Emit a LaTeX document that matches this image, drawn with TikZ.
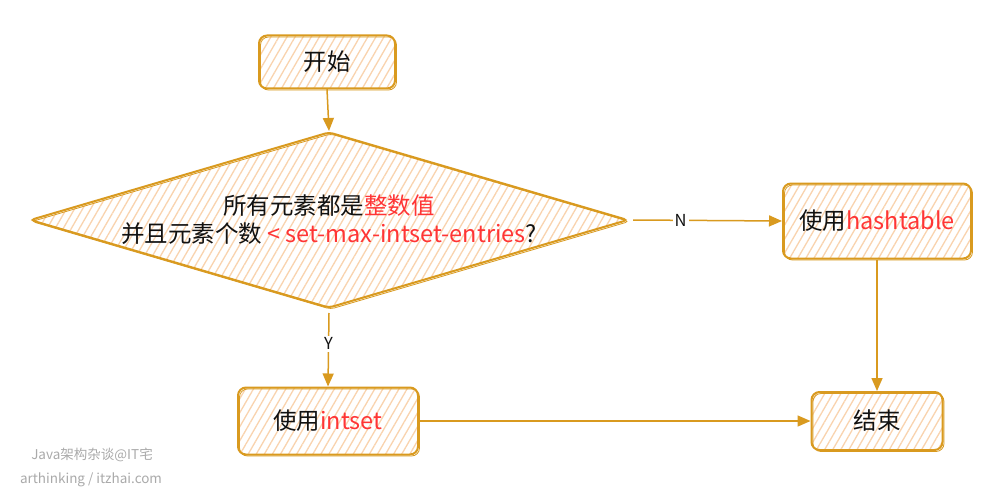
\documentclass[tikz,border=0pt]{standalone}
\usepackage{fontspec}
\setmainfont{Noto Sans CJK SC}
\usetikzlibrary{shapes.geometric,arrows.meta,patterns.meta}
\definecolor{stroke}{HTML}{D99A1F}
\definecolor{hatch}{HTML}{F9D3AE}
\definecolor{hl}{HTML}{FF3535}
\definecolor{ink}{HTML}{111111}
\definecolor{wm}{HTML}{AAAAAA}
\tikzset{
  sketch/.style={draw=stroke, line width=2pt, rounded corners=8pt,
    pattern={Lines[angle=60,distance=7pt,line width=1.3pt]}, pattern color=hatch,
    postaction={draw=stroke, line width=0.8pt, pattern=none, transform canvas={shift={(1.5pt,-1.5pt)}}},
    text=ink, font=\fontsize{23.5}{28}\selectfont, inner sep=0pt},
  stepbox/.style={sketch, rectangle},
  decbox/.style={sketch, diamond, rounded corners=4pt, shape aspect=3.4, align=center},
  conn/.style={draw=stroke, line width=1.5pt, -{Triangle[length=13pt,width=11pt]}},
  lbl/.style={fill=white, text=ink, font=\fontsize{16.5}{19}\selectfont, inner sep=2pt},
  water/.style={text=wm, font=\fontsize{13.5}{16}\selectfont, inner sep=0pt}
}
\begin{document}
\begin{tikzpicture}[x=1pt,y=-1pt]
\useasboundingbox (0,0) rectangle (1000,492);
\fill[white] (0,0) rectangle (1000,492);
\node[stepbox, minimum width=136pt, minimum height=53pt] (start) at (327,62) {开始};
\node[decbox, minimum width=598pt, minimum height=176pt] (dec) at (329,220)
  {所有元素都是\textcolor{hl}{整数值}\\并且元素个数 \textcolor{hl}{< set-max-intset-entries}?};
\node[stepbox, minimum width=188pt, minimum height=75pt] (hash) at (877,221) {使用\textcolor{hl}{hashtable}};
\node[stepbox, minimum width=180pt, minimum height=67pt] (intset) at (328,421) {使用\textcolor{hl}{intset}};
\node[stepbox, minimum width=131pt, minimum height=58pt] (end) at (877,421) {结束};
\draw[conn] (start.south) -- (dec.north);
\draw[conn] (dec.east) ++(4,0) coordinate (decE) -- (hash.west) node[lbl, pos=0.32] (nlab) {N};
\draw[conn] (dec.south) ++(0,4) coordinate (decS) -- (intset.north) node[lbl, pos=0.42] (ylab) {Y};
\draw[conn] (hash.south) -- (end.north);
\draw[conn] (intset.east) -- (end.west);
\node[water] (wm1) at (92,455) {Java架构杂谈@IT宅};
\node[water] (wm2) at (91,480) {arthinking / itzhai.com};
\end{tikzpicture}
\end{document}
